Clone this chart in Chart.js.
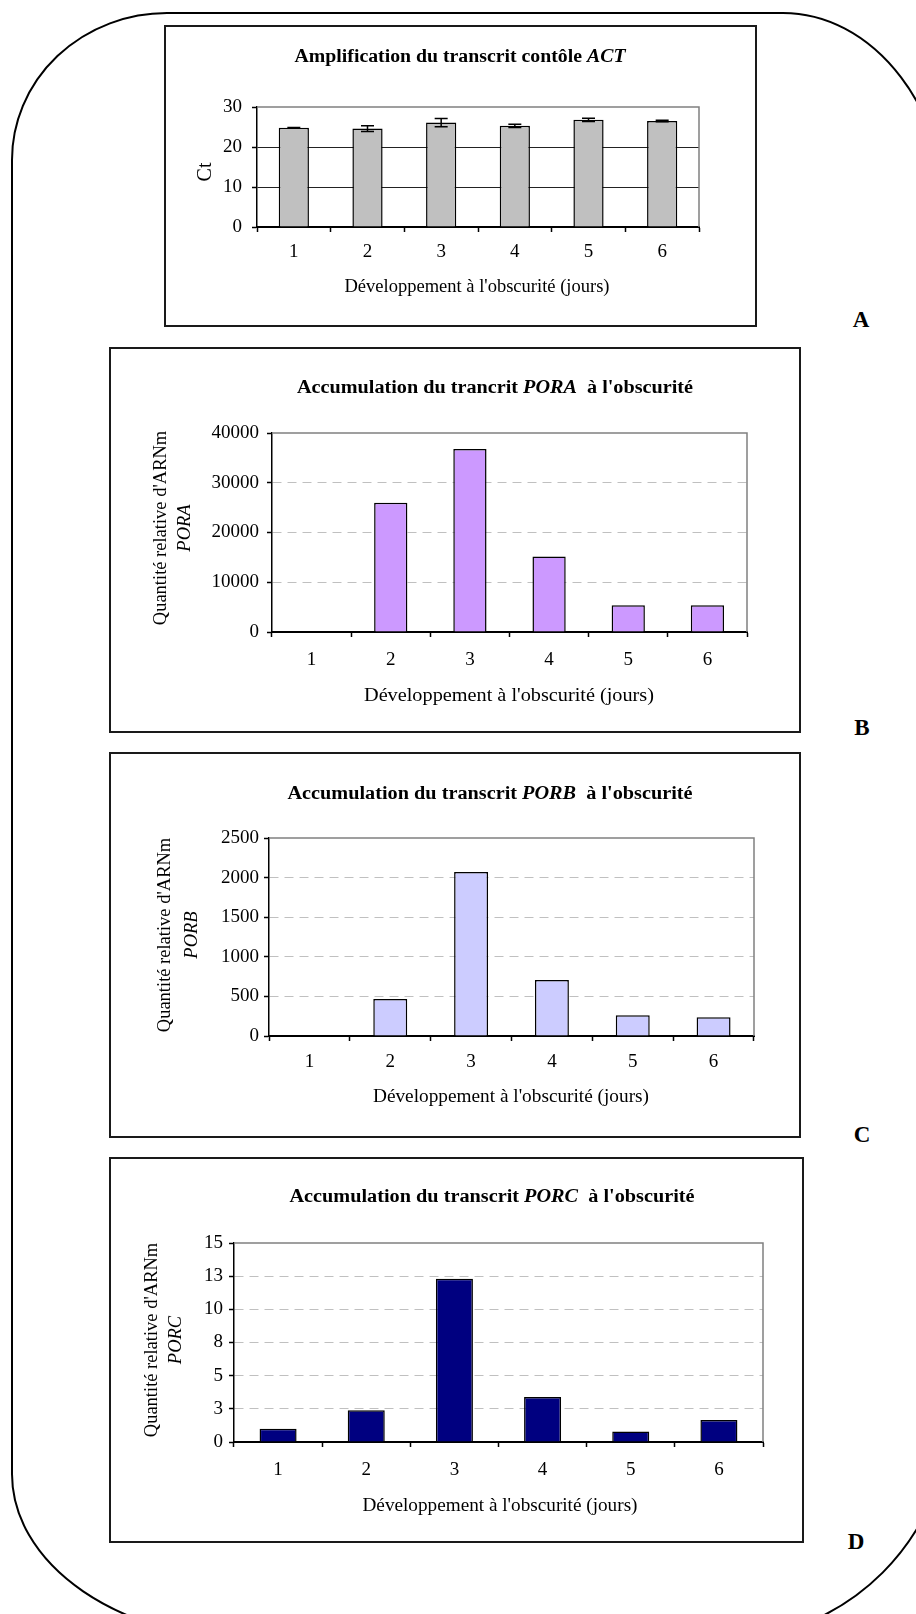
<!DOCTYPE html>
<html>
<head>
<meta charset="utf-8">
<script src="https://cdn.jsdelivr.net/npm/chart.js@4.4.1/dist/chart.umd.min.js"></script>
<style>
body{margin:0;width:916px;height:1614px;overflow:hidden;background:#fff;position:relative;font-family:'Liberation Serif','Times New Roman',serif;}
#frame{position:absolute;left:0;top:0;}
.panel{position:absolute;border:2px solid #1a1a1a;background:#fff;}
.panel canvas{display:block;}
.tag{position:absolute;font-weight:bold;font-size:23px;transform:translate(-50%,-50%);line-height:1;}
</style>
</head>
<body>
<svg id="frame" width="916" height="1614">
  <path d="M167 13 L783 13 A167 220 0 0 1 950 233 L950 1410 A230 230 0 0 1 720 1640 L255 1640 A243 166 0 0 1 12 1474 L12 160 A155 147 0 0 1 167 13 Z" fill="none" stroke="#000" stroke-width="2"/>
</svg>

<div class="panel" id="pA"><canvas id="cA"></canvas></div>
<div class="panel" id="pB"><canvas id="cB"></canvas></div>
<div class="panel" id="pC"><canvas id="cC"></canvas></div>
<div class="panel" id="pD"><canvas id="cD"></canvas></div>

<div class="tag" style="left:861px;top:319px">A</div>
<div class="tag" style="left:862px;top:727px">B</div>
<div class="tag" style="left:862px;top:1134px">C</div>
<div class="tag" style="left:856px;top:1541px">D</div>

<script>
/* ===== Data ===== */
const days = ['1', '2', '3', '4', '5', '6'];

const actCt = [24.8, 24.6, 26.1, 25.3, 26.8, 26.5];
const actErr = [0.08, 0.7, 1.05, 0.4, 0.4, 0.2];
const actTicks = [0, 10, 20, 30];

const poraValues = [0, 26000, 36800, 15200, 5400, 5400];
const poraTicks = [0, 10000, 20000, 30000, 40000];

const porbValues = [0, 467, 2070, 707, 262, 238];
const porbTicks = [0, 500, 1000, 1500, 2000, 2500];

const porcValues = [1.0, 2.4, 12.3, 3.4, 0.8, 1.65];
const porcTicks = [0, 2.5, 5, 7.5, 10, 12.5, 15];

const xTitle = "Développement à l'obscurité (jours)";
const yTitle = "Quantité relative d'ARNm";

Chart.defaults.font.family = "'Liberation Serif', 'Times New Roman', serif";
Chart.defaults.color = '#000';

const FONT = "'Liberation Serif', 'Times New Roman', serif";
const BW = 2;
const TICK_SIZE = 19;

/* ===== Plugins ===== */
// draws a line of mixed-style text centred on (cx, cy), optionally stretched to a length
function drawRich(ctx, parts, cx, cy, angle, size, length){
    ctx.save();
    ctx.translate(cx, cy);
    ctx.rotate(angle);
    let total = 0;
    parts.forEach(p => {
        ctx.font = p[1] + ' ' + size + 'px ' + FONT;
        total += ctx.measureText(p[0]).width;
    });
    if(length) ctx.scale(length / total, 1);
    ctx.fillStyle = '#000';
    ctx.textBaseline = 'middle';
    ctx.textAlign = 'left';
    let x = -total / 2;
    parts.forEach(p => {
        ctx.font = p[1] + ' ' + size + 'px ' + FONT;
        ctx.fillText(p[0], x, 0);
        x += ctx.measureText(p[0]).width;
    });
    ctx.restore();
}

const panelText = {
    id: 'panelText',
    afterDraw(chart, args, o){
        const ctx = chart.ctx;
        drawRich(ctx, o.title, o.titlePos[0] - o.ox, o.titlePos[1] - o.oy, 0, 18, o.titleLen);
        drawRich(ctx, [[xTitle, '']], o.xPos[0] - o.ox, o.xPos[1] - o.oy, 0, 18, o.xLen);
        o.yLines.forEach((line, i) => {
            drawRich(ctx, line, o.yX[i] - o.ox, o.yY - o.oy, -Math.PI / 2, o.ySize);
        });
    }
};

const plotFrame = {
    id: 'plotFrame',
    beforeDatasetsDraw(chart){
        const {ctx, chartArea: a} = chart;
        ctx.save();
        ctx.strokeStyle = '#808080';
        ctx.lineWidth = 1.5;
        ctx.beginPath();
        ctx.moveTo(a.left, a.top);
        ctx.lineTo(a.right, a.top);
        ctx.lineTo(a.right, a.bottom);
        ctx.stroke();
        ctx.restore();
    }
};

const errorBars = {
    id: 'errorBars',
    afterDatasetsDraw(chart, args, o){
        if(!o.errors) return;
        const ctx = chart.ctx;
        const y = chart.scales.y;
        const vals = chart.data.datasets[0].data;
        ctx.save();
        ctx.strokeStyle = '#000';
        ctx.lineWidth = 1.5;
        chart.getDatasetMeta(0).data.forEach((bar, i) => {
            const top = y.getPixelForValue(vals[i] + o.errors[i]);
            const bot = y.getPixelForValue(vals[i] - o.errors[i]);
            ctx.beginPath();
            ctx.moveTo(bar.x, top); ctx.lineTo(bar.x, bot);
            ctx.moveTo(bar.x - o.cap, top); ctx.lineTo(bar.x + o.cap, top);
            ctx.moveTo(bar.x - o.cap, bot); ctx.lineTo(bar.x + o.cap, bot);
            ctx.stroke();
        });
        ctx.restore();
    }
};

/* ===== Charts ===== */
function makeChart(id, cfg){
    const [bx, by, bw, bh] = cfg.box;
    const [pl, pt, pr, pb] = cfg.plot;
    const ox = bx + BW, oy = by + BW;
    const cw = bw - 2 * BW, ch = bh - 2 * BW;

    const wrap = document.getElementById('p' + id);
    wrap.style.left = bx + 'px';
    wrap.style.top = by + 'px';
    wrap.style.width = cw + 'px';
    wrap.style.height = ch + 'px';
    const canvas = document.getElementById('c' + id);
    canvas.width = cw;
    canvas.height = ch;

    const max = cfg.ticks[cfg.ticks.length - 1];

    return new Chart(canvas, {
        type: 'bar',
        data: {
            labels: days,
            datasets: [{
                data: cfg.values,
                backgroundColor: cfg.color,
                borderColor: '#000',
                borderWidth: 1.5,
                barPercentage: cfg.barPct,
                categoryPercentage: 1
            }]
        },
        options: {
            responsive: false,
            animation: false,
            devicePixelRatio: 1,
            layout: {padding: {left: 0, top: pt - oy, right: ox + cw - pr, bottom: 0}},
            plugins: {
                legend: {display: false},
                tooltip: {enabled: false},
                panelText: Object.assign({ox: ox, oy: oy}, cfg.text),
                errorBars: {errors: cfg.errors, cap: 6.5}
            },
            scales: {
                x: {
                    grid: {drawOnChartArea: false, drawTicks: true, tickLength: 5, tickColor: '#000', tickWidth: 1.5, offset: true},
                    border: {color: '#000', width: 2},
                    ticks: {color: '#000', font: {size: TICK_SIZE}, padding: cfg.xPad},
                    afterFit: s => { s.height = oy + ch - pb; }
                },
                y: {
                    min: 0,
                    max: max,
                    afterBuildTicks: s => { s.ticks = cfg.ticks.map(v => ({value: v})); },
                    ticks: {color: '#000', font: {size: TICK_SIZE}, padding: cfg.yPad, callback: v => String(Math.round(v))},
                    grid: {
                        color: c => (c.tick && c.tick.value === max) ? 'rgba(0,0,0,0)' : cfg.gridColor,
                        lineWidth: 1,
                        tickColor: '#000',
                        tickLength: 5,
                        tickWidth: 1.5
                    },
                    border: {color: '#000', width: 1.5, dash: cfg.dash},
                    afterFit: s => { s.width = pl - ox; }
                }
            }
        },
        plugins: [panelText, plotFrame, errorBars]
    });
}

makeChart('A', {
    box: [164, 25, 593, 302], plot: [257, 107, 699, 227],
    values: actCt, errors: actErr, ticks: actTicks,
    color: '#c0c0c0', barPct: 0.41, gridColor: '#222', dash: [],
    xPad: 9, yPad: 10,
    text: {
        title: [['Amplification du transcrit contôle ', 'bold'], ['ACT', 'italic bold']],
        titlePos: [460, 57], titleLen: 331,
        xPos: [477, 287], xLen: 265,
        yLines: [[['Ct', '']]], yX: [206], yY: 172, ySize: 20
    }
});

makeChart('B', {
    box: [109, 347, 692, 386], plot: [272, 433, 747, 632],
    values: poraValues, ticks: poraTicks,
    color: '#cc99ff', barPct: 0.42, gridColor: '#c0c0c0', dash: [9, 6],
    xPad: 12, yPad: 8,
    text: {
        title: [['Accumulation du trancrit ', 'bold'], ['PORA', 'italic bold'], ['  à l\'obscurité', 'bold']],
        titlePos: [495, 388], titleLen: 396,
        xPos: [509, 696], xLen: 290,
        yLines: [[[yTitle, '']], [['PORA', 'italic']]], yX: [161, 185], yY: 528, ySize: 18.5
    }
});

makeChart('C', {
    box: [109, 752, 692, 386], plot: [269, 838, 754, 1036],
    values: porbValues, ticks: porbTicks,
    color: '#ccccff', barPct: 0.42, gridColor: '#c0c0c0', dash: [9, 6],
    xPad: 10, yPad: 5,
    text: {
        title: [['Accumulation du transcrit ', 'bold'], ['PORB', 'italic bold'], ['  à l\'obscurité', 'bold']],
        titlePos: [490, 794], titleLen: 405,
        xPos: [511, 1097], xLen: 276,
        yLines: [[[yTitle, '']], [['PORB', 'italic']]], yX: [165, 192], yY: 935, ySize: 18.5
    }
});

makeChart('D', {
    box: [109, 1157, 695, 386], plot: [234, 1243, 763, 1442],
    values: porcValues, ticks: porcTicks,
    color: '#000080', barPct: 0.42, gridColor: '#c0c0c0', dash: [9, 6],
    xPad: 12, yPad: 6,
    text: {
        title: [['Accumulation du transcrit ', 'bold'], ['PORC', 'italic bold'], ['  à l\'obscurité', 'bold']],
        titlePos: [492, 1197], titleLen: 405,
        xPos: [500, 1506], xLen: 275,
        yLines: [[[yTitle, '']], [['PORC', 'italic']]], yX: [152, 176], yY: 1340, ySize: 18.5
    }
});
</script>
</body>
</html>
